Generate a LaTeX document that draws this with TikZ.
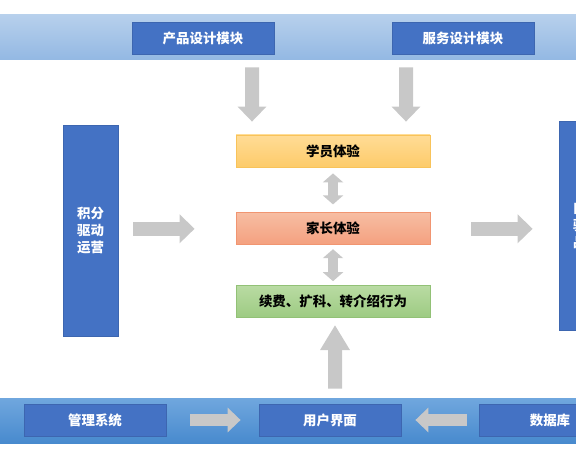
\documentclass[tikz,border=0pt]{standalone}
\usepackage{fontspec}
\setmainfont{Noto Sans CJK SC}
\usetikzlibrary{positioning,arrows.meta}
\definecolor{boxblue}{HTML}{4472C4}
\definecolor{boxedge}{HTML}{3D66B0}
\definecolor{arrowgray}{HTML}{C8C8C8}
\begin{document}
\begin{tikzpicture}[x=1bp,y=-1bp,node distance=45bp,
  module/.style={draw=boxedge,line width=0.8bp,fill=boxblue,text=white,minimum width=142bp,minimum height=32bp,inner sep=0pt,font=\fontsize{13.5}{17}\selectfont\bfseries},
  pillar/.style={module,minimum width=55bp,align=center},
  stage/.style={line width=0.8bp,minimum width=194bp,minimum height=32bp,inner sep=0pt,font=\fontsize{13.5}{17}\selectfont\bfseries},
  fat/.style={draw=arrowgray,line width=14bp,-{Triangle[width=28bp,length=15bp]}},
  twin/.style={draw=arrowgray,line width=10bp,{Triangle[width=20bp,length=9bp]}-{Triangle[width=20bp,length=9bp]}},
  flat/.style={draw=arrowgray,line width=12bp,-{Triangle[width=24bp,length=13bp]}}]
\useasboundingbox (0,0) rectangle (576,460);
\clip (0,0) rectangle (576,460);
% bands
\shade[top color={rgb,255:red,183;green,208;blue,236},bottom color={rgb,255:red,147;green,184;blue,227}] (0,15) rectangle (576,60);
\shade[top color={rgb,255:red,112;green,167;blue,222},bottom color={rgb,255:red,72;green,138;blue,206}] (0,398) rectangle (576,443);
% top modules
\node (chanpin) [module] at (203,38) {产品设计模块};
\node (fuwu) [module] at (463,38) {服务设计模块};
% middle column
\node (xueyuan) [stage,draw={rgb,255:red,248;green,195;blue,90},top color={rgb,255:red,255;green,220;blue,150},bottom color={rgb,255:red,253;green,203;blue,106}] at (333,151) {学员体验};
\node (jiazhang) [stage,draw={rgb,255:red,241;green,149;blue,113},top color={rgb,255:red,247;green,189;blue,162},bottom color={rgb,255:red,244;green,160;blue,127},below=45bp of xueyuan] {家长体验};
\node (xufei) [stage,draw={rgb,255:red,146;green,193;blue,118},top color={rgb,255:red,185;green,219;blue,163},bottom color={rgb,255:red,157;green,203;blue,130},below=40bp of jiazhang] {续费、扩科、转介绍行为};
% side pillars
\node (jifen) [pillar,minimum height=211bp] at (90.5,230.5) {积分\\驱动\\运营};
\node (koubei) [pillar,minimum height=209bp] at (586.5,225.5) {口碑\\驱动\\品牌};
% bottom modules
\node (guanli) [module] at (95,420) {管理系统};
\node (yonghu) [module] at (330,420) {用户界面};
\node (shujuku) [module] at (550,420) {数据库};
% arrows
\draw[fat] ([xshift=49bp,yshift=-13bp]chanpin.south) -- ([xshift=-81bp,yshift=13bp]xueyuan.north);
\draw[fat] ([xshift=-57bp,yshift=-13bp]fuwu.south) -- ([xshift=73bp,yshift=13bp]xueyuan.north);
\draw[twin,shorten <=6bp,shorten >=8bp] (xueyuan.south) -- (jiazhang.north);
\draw[twin,shorten <=4bp,shorten >=4bp] (jiazhang.south) -- (xufei.north);
\draw[fat,-{Triangle[width=28bp,length=25bp]}] ([xshift=5bp,yshift=15bp]yonghu.north) -- ([xshift=2bp,yshift=-7bp]xufei.south);
\draw[fat,shorten <=15bp,shorten >=41bp] (jifen.east |- jiazhang) -- (jiazhang.west);
\draw[fat,shorten <=41bp,shorten >=26bp] (jiazhang.east) -- (jiazhang.east -| koubei.west);
\draw[flat,shorten <=24bp,shorten >=18bp] (guanli) -- (yonghu);
\draw[flat,shorten <=12bp,shorten >=14bp] (shujuku) -- (yonghu);
\end{tikzpicture}
\end{document}
